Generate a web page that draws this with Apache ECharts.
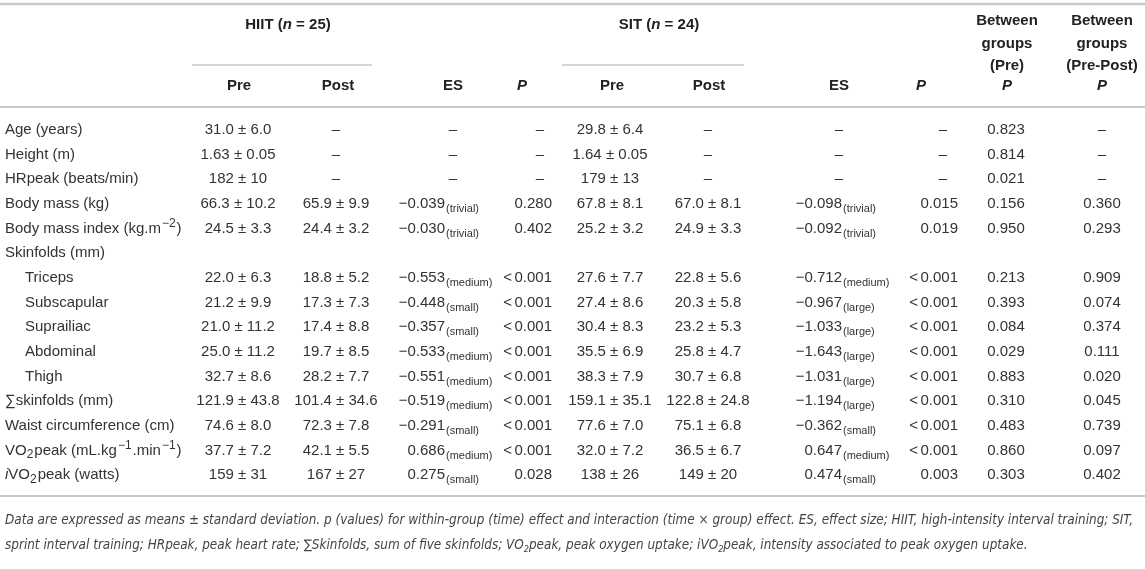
<!DOCTYPE html>
<html>
<head>
<meta charset="utf-8">
<script src="https://cdn.jsdelivr.net/npm/echarts@6/dist/echarts.min.js"></script>
<style>
html, body { margin: 0; padding: 0; background: #fff; }
#table { width: 1145px; height: 569px; }
</style>
</head>
<body>
<div id="table"></div>
<script>
// row labels (rich markup for sub/superscripts)
const rowLabels = [
    'Age (years)', 'Height (m)', 'HRpeak (beats/min)', 'Body mass (kg)',
    'Body mass index (kg.m{sup|−2})', 'Skinfolds (mm)', 'Triceps', 'Subscapular',
    'Suprailiac', 'Abdominal', 'Thigh', '∑skinfolds (mm)', 'Waist circumference (cm)',
    'VO{sub|2}peak (mL.kg{sup|−1}.min{sup|−1})', '{it|i}VO{sub|2}peak (watts)'
];
const subRows = ['Triceps', 'Subscapular', 'Suprailiac', 'Abdominal', 'Thigh'];

const hiitPre = ['31.0 ± 6.0', '1.63 ± 0.05', '182 ± 10', '66.3 ± 10.2', '24.5 ± 3.3', '',
    '22.0 ± 6.3', '21.2 ± 9.9', '21.0 ± 11.2', '25.0 ± 11.2', '32.7 ± 8.6', '121.9 ± 43.8',
    '74.6 ± 8.0', '37.7 ± 7.2', '159 ± 31'];
const hiitPost = ['–', '–', '–', '65.9 ± 9.9', '24.4 ± 3.2', '',
    '18.8 ± 5.2', '17.3 ± 7.3', '17.4 ± 8.8', '19.7 ± 8.5', '28.2 ± 7.7', '101.4 ± 34.6',
    '72.3 ± 7.8', '42.1 ± 5.5', '167 ± 27'];
const hiitES = ['–', '–', '–', '−0.039', '−0.030', '', '−0.553', '−0.448', '−0.357', '−0.533',
    '−0.551', '−0.519', '−0.291', '0.686', '0.275'];
const hiitESSize = ['', '', '', 'trivial', 'trivial', '', 'medium', 'small', 'small', 'medium',
    'medium', 'medium', 'small', 'medium', 'small'];
const hiitP = ['–', '–', '–', '0.280', '0.402', '', '<0.001', '<0.001', '<0.001', '<0.001',
    '<0.001', '<0.001', '<0.001', '<0.001', '0.028'];

const sitPre = ['29.8 ± 6.4', '1.64 ± 0.05', '179 ± 13', '67.8 ± 8.1', '25.2 ± 3.2', '',
    '27.6 ± 7.7', '27.4 ± 8.6', '30.4 ± 8.3', '35.5 ± 6.9', '38.3 ± 7.9', '159.1 ± 35.1',
    '77.6 ± 7.0', '32.0 ± 7.2', '138 ± 26'];
const sitPost = ['–', '–', '–', '67.0 ± 8.1', '24.9 ± 3.3', '',
    '22.8 ± 5.6', '20.3 ± 5.8', '23.2 ± 5.3', '25.8 ± 4.7', '30.7 ± 6.8', '122.8 ± 24.8',
    '75.1 ± 6.8', '36.5 ± 6.7', '149 ± 20'];
const sitES = ['–', '–', '–', '−0.098', '−0.092', '', '−0.712', '−0.967', '−1.033', '−1.643',
    '−1.031', '−1.194', '−0.362', '0.647', '0.474'];
const sitESSize = ['', '', '', 'trivial', 'trivial', '', 'medium', 'large', 'large', 'large',
    'large', 'large', 'small', 'medium', 'small'];
const sitP = ['–', '–', '–', '0.015', '0.019', '', '<0.001', '<0.001', '<0.001', '<0.001',
    '<0.001', '<0.001', '<0.001', '<0.001', '0.003'];

const betweenPre = ['0.823', '0.814', '0.021', '0.156', '0.950', '', '0.213', '0.393', '0.084',
    '0.029', '0.883', '0.310', '0.483', '0.860', '0.303'];
const betweenPrePost = ['–', '–', '–', '0.360', '0.293', '', '0.909', '0.074', '0.374', '0.111',
    '0.020', '0.045', '0.739', '0.097', '0.402'];

// column layout (x anchors on the hidden value axis)
const columns = [
    { kind: 'label', values: rowLabels, x: 5 },
    { kind: 'c', values: hiitPre, x: 238 },
    { kind: 'c', values: hiitPost, x: 336 },
    { kind: 'es', values: hiitES, sizes: hiitESSize, x: 445, dashX: 453 },
    { kind: 'p', values: hiitP, x: 552, dashX: 540 },
    { kind: 'c', values: sitPre, x: 610 },
    { kind: 'c', values: sitPost, x: 708 },
    { kind: 'es', values: sitES, sizes: sitESSize, x: 842, dashX: 839 },
    { kind: 'p', values: sitP, x: 958, dashX: 943 },
    { kind: 'c', values: betweenPre, x: 1006 },
    { kind: 'c', values: betweenPrePost, x: 1102 }
];

const FONT = '"Liberation Sans", Arial, sans-serif';
const FS = 15;
const TXT = '#333';
const RULE = '#c8c8c8';

const labelRich = {
    sup: { fontSize: 12, fontFamily: FONT, fill: TXT, padding: [0, 1, 9, 1], lineHeight: 12 },
    sub: { fontSize: 12, fontFamily: FONT, fill: TXT, padding: [9, 1, 0, 0], lineHeight: 12 },
    it: { fontSize: FS, fontFamily: FONT, fontStyle: 'italic', fill: TXT, lineHeight: 21 }
};

function txt(x, y, text, align, extra) {
    return {
        type: 'text', x: x, y: y,
        style: Object.assign({
            text: text, align: align, verticalAlign: 'middle',
            fontSize: FS, fontFamily: FONT, fill: TXT, lineHeight: 21
        }, extra || {})
    };
}

const cells = [];
columns.forEach((col, ci) => {
    col.values.forEach((v, ri) => {
        if (v !== '') cells.push([col.x, ri, ci]);
    });
});

function renderCell(params, api) {
    const col = columns[api.value(2)];
    const ri = api.value(1);
    const v = col.values[ri];
    const p = api.coord([col.x, ri]);
    const y = p[1];
    const children = [];
    if (col.kind === 'label') {
        const x = subRows.indexOf(v) >= 0 ? p[0] + 20 : p[0];
        children.push(txt(x, y, v, 'left', { rich: labelRich }));
    } else if (col.kind === 'es') {
        if (v === '–') {
            const d = api.coord([col.dashX, ri]);
            children.push(txt(d[0], y, v, 'center'));
        } else {
            children.push(txt(p[0], y, v, 'right'));
            children.push(txt(p[0] + 1, y + 5, '(' + col.sizes[ri] + ')', 'left', { fontSize: 11, lineHeight: 13 }));
        }
    } else if (col.kind === 'p') {
        if (v === '–') {
            const d = api.coord([col.dashX, ri]);
            children.push(txt(d[0], y, v, 'center'));
        } else if (v.charAt(0) === '<') {
            children.push(txt(p[0], y, v.slice(1), 'right'));
            children.push(txt(p[0] - 40, y, '<', 'right'));
        } else {
            children.push(txt(p[0], y, v, 'right'));
        }
    } else {
        children.push(txt(p[0], y, v, 'center'));
    }
    return { type: 'group', children: children };
}

function hline(x1, x2, y, w) {
    return { type: 'line', shape: { x1: x1, y1: y, x2: x2, y2: y }, style: { stroke: RULE, lineWidth: w || 2 }, silent: true };
}
const hb = { fontSize: FS, fontFamily: FONT, fontWeight: 'bold', fill: '#222' };
const headRich = {
    n: hb,
    bi: Object.assign({}, hb, { fontStyle: 'italic' })
};
function head(x, y, text) {
    return {
        type: 'text', x: x, y: y,
        style: Object.assign({ text: text, align: 'center', verticalAlign: 'middle', rich: headRich }, hb)
    };
}

const footStyle = {
    fontSize: 13.4, fontFamily: '"Liberation Sans Narrow", "DejaVu Sans Condensed", "Liberation Sans", sans-serif',
    fontStyle: 'italic', fill: '#444'
};
const footRich = {
    sub: Object.assign({}, footStyle, { fontSize: 9, padding: [7, 0, 0, 0], lineHeight: 9 }),
    n: Object.assign({}, footStyle, { lineHeight: 16 })
};

const option = {
    animation: false,
    grid: { left: 0, right: 0, top: 117.7, bottom: 81.5 },
    xAxis: { type: 'value', min: 0, max: 1145, show: false },
    yAxis: { type: 'category', data: rowLabels, inverse: true, show: false },
    series: [{
        type: 'custom',
        renderItem: renderCell,
        data: cells,
        encode: { x: 0, y: 1 },
        silent: true
    }],
    graphic: [
        hline(0, 1145, 4, 2.5),
        hline(192, 372, 65, 1.5),
        hline(562, 744, 65, 1.5),
        hline(0, 1145, 107, 2),
        hline(0, 1145, 496, 2),
        head(288, 25, '{n|HIIT (}{bi|n}{n| = 25)}'),
        head(659, 25, '{n|SIT (}{bi|n}{n| = 24)}'),
        head(239, 86, 'Pre'), head(338, 86, 'Post'), head(453, 86, 'ES'),
        head(522, 86, '{bi|P}'),
        head(612, 86, 'Pre'), head(709, 86, 'Post'), head(839, 86, 'ES'),
        head(921, 86, '{bi|P}'),
        head(1007, 21, 'Between'), head(1007, 44, 'groups'), head(1007, 66, '(Pre)'),
        head(1007, 86, '{bi|P}'),
        head(1102, 21, 'Between'), head(1102, 44, 'groups'), head(1102, 66, '(Pre-Post)'),
        head(1102, 86, '{bi|P}'),
        {
            type: 'text', x: 5, y: 521,
            style: Object.assign({
                text: '{n|Data are expressed as means ± standard deviation. p (values) for within-group (time) effect and interaction (time × group) effect. ES, effect size; HIIT, high-intensity interval training; SIT,}',
                verticalAlign: 'middle', rich: footRich
            }, footStyle)
        },
        {
            type: 'text', x: 5, y: 546,
            style: Object.assign({
                text: '{n|sprint interval training; HRpeak, peak heart rate; ∑Skinfolds, sum of five skinfolds; VO}{sub|2}{n|peak, peak oxygen uptake; iVO}{sub|2}{n|peak, intensity associated to peak oxygen uptake.}',
                verticalAlign: 'middle', rich: footRich
            }, footStyle)
        }
    ]
};

const myChart = echarts.init(document.getElementById('table'));
myChart.setOption(option);
</script>
</body>
</html>
